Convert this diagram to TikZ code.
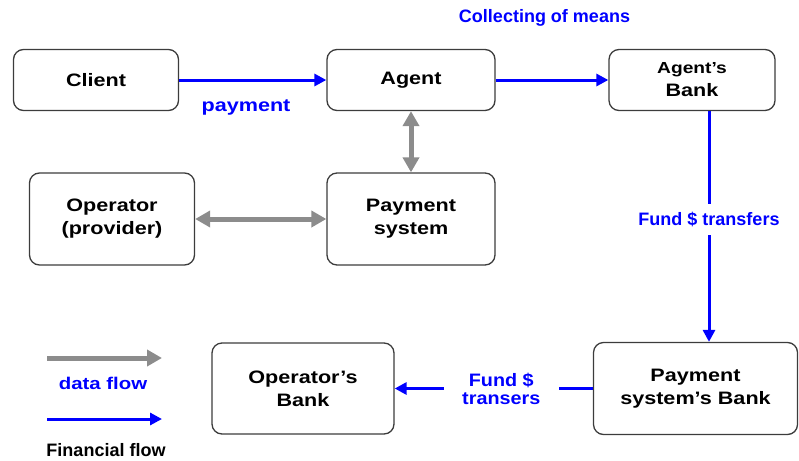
\documentclass[tikz,border=0pt]{standalone}
\usepackage{fontspec}
\setmainfont{Liberation Sans}
\newfontfamily\nf[FakeStretch=1.2]{Liberation Sans}
\newfontfamily\wf[FakeStretch=1.1]{Liberation Sans}
\usetikzlibrary{arrows.meta}
\definecolor{fblue}{RGB}{0,0,255}
\definecolor{dgray}{RGB}{140,140,140}
\definecolor{bord}{RGB}{60,60,60}
\tikzset{
  box/.style={draw=bord, line width=1.3pt, rounded corners=10pt, fill=white,
    align=center, inner sep=0pt, font=\nf\bfseries\fontsize{18}{23}\selectfont},
  farrow/.style={draw=fblue, line width=3pt, -{Triangle[length=12pt,width=12pt]}},
  darrow/.style={draw=dgray, line width=5pt, {Triangle[length=15pt,width=16pt]}-{Triangle[length=15pt,width=16pt]}},
  dlarrow/.style={draw=dgray, line width=5pt, -{Triangle[length=15pt,width=16pt]}},
  blbl/.style={text=fblue, font=\bfseries\fontsize{18}{18}\selectfont, align=center, inner sep=0pt},
  gapl/.style={fill=white, align=center, inner sep=0pt},
}
\begin{document}
\begin{tikzpicture}[x=1pt,y=-1pt]
\useasboundingbox (0,0) rectangle (799,460);
% boxes
\node[box, minimum width=165pt, minimum height=61pt] (client) at (96,80) {Client};
\node[box, minimum width=168pt, minimum height=61pt] (agent) at (411,80) {Agent};
\node[box, minimum width=166pt, minimum height=61pt] (ab) at (692,80)
  {{\fontsize{16}{20}\selectfont Agent’s}\\Bank};
\node[box, minimum width=165pt, minimum height=92pt] (op) at (112,219) {Operator\\(provider)};
\node[box, minimum width=168pt, minimum height=92pt] (ps) at (411,219) {Payment\\system};
\node[box, minimum width=182pt, minimum height=91pt] (ob) at (303,388.5) {Operator’s\\Bank};
\node[box, minimum width=204pt, minimum height=92pt] (psb) at (695.5,388.5) {Payment\\system’s Bank};
% labels
\node[blbl] (collect) at (544.5,18) {Collecting of means};
\node[blbl, font=\nf\bfseries\fontsize{18}{18}\selectfont] (pay) at (246,107) {payment};
% flows
\draw[farrow] (client) -- (agent);
\draw[farrow] (agent) -- (ab);
\draw[darrow] (agent) -- (ps);
\draw[darrow] (op) -- (ps);
\coordinate (vx) at (709,0);
\draw[farrow] (vx |- ab.south) -- node[gapl, pos=0.47, minimum height=31pt, blbl] {Fund \$ transfers} (vx |- psb.north);
\draw[farrow] (psb.west) -- node[gapl, pos=0.462, minimum width=115pt, blbl,
   font=\wf\bfseries\fontsize{18}{18}\selectfont] {Fund \$\\transers} (ob.east);
% legend
\coordinate (l1a) at (47,358);
\coordinate (l1b) at (162,358);
\coordinate (l2a) at (47,419);
\coordinate (l2b) at (162,419);
\draw[dlarrow] (l1a) -- (l1b);
\draw[farrow] (l2a) -- (l2b);
\node[blbl, font=\nf\bfseries\fontsize{17}{17}\selectfont] (dflow) at (103,383) {data flow};
\node[font=\bfseries\fontsize{18}{18}\selectfont, inner sep=0pt] (fflow) at (106,450) {Financial flow};
\end{tikzpicture}
\end{document}
